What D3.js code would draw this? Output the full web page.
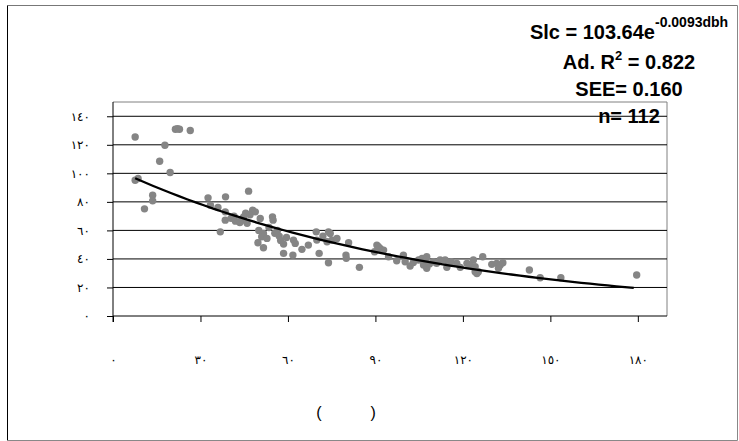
<html>
<head>
  <meta charset="utf-8" />
  <script src="https://cdnjs.cloudflare.com/ajax/libs/d3/7.8.5/d3.min.js"></script>
  <style>
    body { margin: 0; background: #fff; }
    .tick text { font-family: "DejaVu Sans", sans-serif; font-size: 12px; fill: #000; letter-spacing: 1px; }
    .note { font-family: "Liberation Sans", Arial, sans-serif; font-weight: bold; fill: #000; }
  </style>
</head>
<body>
  <svg></svg>
  <script>
  // dbh (x) and Slc (y)
  var dbh = [7.6, 21.4, 22.8, 22.1, 26.5, 17.8, 16, 19.6, 7.6, 8.6, 13.6, 13.6, 10.8, 32.6, 46.5, 38.6, 33.4, 36,
    36.8, 38.5, 38.5, 40.5, 42, 44, 45.5, 46, 43.5, 47.9, 48.8, 50.5, 50, 51.6, 51, 49.7, 51.6, 52.8, 54.7, 54.9,
    56.4, 57, 58.5, 58.5,
    61.9, 62.5, 61.7, 64.8, 67, 69.7, 69.9, 70.7, 73.9, 74.5, 73.4, 75.1, 73.9, 76.8, 80.8, 79.9, 80, 84.5,
    90.5, 91.6, 92.8, 89.7, 94.5, 97.3, 99.6, 100.2, 101.9, 104.8, 106, 107.1, 107.6, 107.6, 106.5,
    109.9, 112.2, 113.9, 115.1, 114.5, 117.9, 119.1,
    121.4, 123.6, 124.2, 124.8, 125.3, 124.2, 126.8, 129.9, 131.6, 132.8, 133.7, 132.2, 142.8, 146.5, 153.6, 179.6,
    41.5, 44.8, 47, 53.5, 55.5, 57.5, 59.5, 72, 91, 103, 108.5, 111, 116, 122.5];
  var slc = [125.5, 130.9, 130.9, 131.2, 130, 119.7, 108.5, 100.6, 95.2, 96.4, 84.7, 80.7, 75.1, 82.8, 87.5, 83.5, 77.7, 76.1,
    59, 73, 67.2, 68.5, 66.5, 67, 72, 65, 65.5, 74.2, 73, 68.4, 60, 57.9, 55.5, 51.3, 47.8, 54.4, 69.5, 67.2,
    60, 56, 50.4, 43.9,
    53.2, 50.9, 42.7, 46.7, 49.7, 59, 53.2, 43.9, 59, 57.9, 52, 53.2, 37.3, 54.4, 51.3, 42.7, 40.4, 34.1,
    49.7, 47.4, 46.2, 45, 41.5, 38.7, 42.7, 38, 35, 39.2, 40.4, 38, 41.5, 33.4, 35.7,
    38, 39.2, 39.2, 36.9, 34.1, 36.9, 34.1,
    36.9, 39.2, 34.5, 29.8, 31, 31, 41.5, 36.2, 36.9, 35.7, 37.3, 33.4, 32.2, 26.8, 26.8, 28.7,
    70, 69.5, 71, 62, 58, 53, 55, 56, 48.5, 37.5, 36.5, 37, 38, 35.5];

  var xTicks = [0, 30, 60, 90, 120, 150, 180];
  var xTickLabels = ["٠", "٣٠", "٦٠", "٩٠", "١٢٠", "١٥٠", "١٨٠"];
  var yTicks = [0, 20, 40, 60, 80, 100, 120, 140];
  var yTickLabels = ["٠", "٢٠", "٤٠", "٦٠", "٨٠", "١٠٠", "١٢٠", "١٤٠"];

  // fitted trendline Slc = a * e^(b * dbh)
  var fitA = 103.64, fitB = -0.0093;

  var svg = d3.select("svg").attr("width", 739).attr("height", 441);

  var x = d3.scaleLinear().domain([0, 190]).range([113, 667]);
  var y = d3.scaleLinear().domain([0, 150]).range([316, 102]);

  // outer frame
  svg.append("line").attr("x1", 7.5).attr("y1", 5.5).attr("x2", 737.5).attr("y2", 5.5).attr("stroke", "#777");
  svg.append("line").attr("x1", 7.5).attr("y1", 5.5).attr("x2", 7.5).attr("y2", 440.5).attr("stroke", "#000");
  svg.append("line").attr("x1", 7.5).attr("y1", 440.5).attr("x2", 737.5).attr("y2", 440.5).attr("stroke", "#888");
  svg.append("line").attr("x1", 737.5).attr("y1", 5.5).attr("x2", 737.5).attr("y2", 440.5).attr("stroke", "#888");

  // plot area border (top / right)
  svg.append("path")
    .attr("d", "M" + x(0) + "," + y(150) + "H" + x(190) + "V" + y(0))
    .attr("fill", "none").attr("stroke", "#808080");

  // gridlines
  svg.append("g").selectAll("line").data(yTicks.slice(1)).join("line")
    .attr("x1", x(0)).attr("x2", x(190))
    .attr("y1", d => y(d)).attr("y2", d => y(d))
    .attr("stroke", "#000").attr("stroke-width", 1);

  var xAxis = svg.append("g")
    .attr("transform", "translate(0," + y(0) + ")")
    .call(d3.axisBottom(x).tickValues(xTicks).tickSize(6).tickPadding(33)
      .tickFormat((d, i) => xTickLabels[i]));
  xAxis.select(".domain").attr("d", "M" + x(0) + ",0H" + x(190)).attr("stroke", "#000");

  var yAxis = svg.append("g")
    .attr("transform", "translate(" + x(0) + ",0)")
    .call(d3.axisLeft(y).tickValues(yTicks).tickSize(6).tickPadding(17)
      .tickFormat((d, i) => yTickLabels[i]));
  yAxis.select(".domain").attr("d", "M0," + y(150) + "V" + (y(0) + 6)).attr("stroke", "#000");

  // points
  svg.append("g").selectAll("circle").data(dbh).join("circle")
    .attr("cx", d => x(d))
    .attr("cy", (d, i) => y(slc[i]))
    .attr("r", 3.7)
    .attr("fill", "#858585");

  // trendline across the range of dbh
  var xs = d3.range(d3.min(dbh), d3.max(dbh) + 0.01, 3);
  var trend = d3.line().x(d => x(d)).y(d => y(fitA * Math.exp(fitB * d)));
  svg.append("path")
    .attr("d", trend(xs))
    .attr("fill", "none").attr("stroke", "#000").attr("stroke-width", 2.3);

  // annotation
  var cx = 629;
  var t1 = svg.append("text").attr("class", "note").attr("x", cx).attr("y", 39)
    .attr("text-anchor", "middle").style("font-size", "20px");
  t1.append("tspan").text("Slc = 103.64e");
  t1.append("tspan").attr("dy", -12).style("font-size", "14px").text("-0.0093dbh");

  var t2 = svg.append("text").attr("class", "note").attr("x", cx).attr("y", 69)
    .attr("text-anchor", "middle").style("font-size", "20px");
  t2.append("tspan").text("Ad. R");
  t2.append("tspan").attr("dy", -9).style("font-size", "13px").text("2");
  t2.append("tspan").attr("dy", 9).text(" = 0.822");

  svg.append("text").attr("class", "note").attr("x", cx).attr("y", 96)
    .attr("text-anchor", "middle").style("font-size", "20px").text("SEE= 0.160");
  svg.append("text").attr("class", "note").attr("x", cx).attr("y", 123)
    .attr("text-anchor", "middle").style("font-size", "20px").text("n= 112");

  // axis title (glyphs missing in the original, only brackets show)
  svg.append("text").attr("x", 346).attr("y", 418).attr("text-anchor", "middle")
    .style("font-family", "Liberation Sans, Arial, sans-serif").style("font-size", "16px")
    .style("white-space", "pre").text("(           )");
  </script>
</body>
</html>
